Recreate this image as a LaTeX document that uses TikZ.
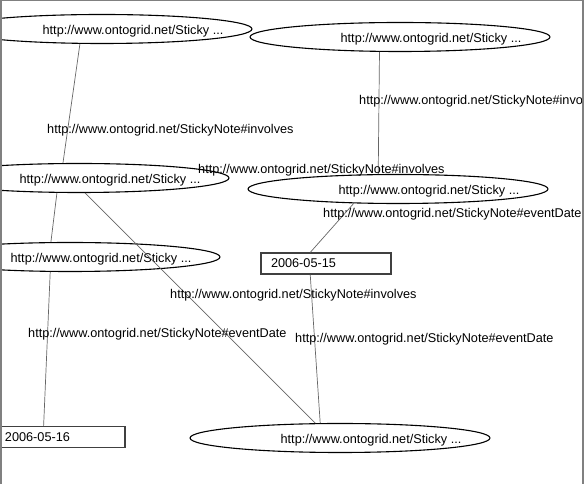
\documentclass[tikz,border=0pt]{standalone}
\usepackage{fontspec}
\setmainfont{Liberation Sans}
\usepackage{tikz}
\usetikzlibrary{shapes.geometric}
\newcommand{\sticky}{http://www.ontogrid.net/Sticky ...}
\newcommand{\prop}[1]{http://www.ontogrid.net/StickyNote\##1}
\begin{document}
\begin{tikzpicture}[x=1pt, y=1pt, font=\fontsize{12.7}{15}\selectfont]
 	\tikzstyle{res}=[ellipse, draw=black, line width=1.1pt, minimum width=300pt, minimum height=29pt, inner sep=0pt]
 	\tikzstyle{lit}=[rectangle, draw=black!75, line width=1.1pt, minimum width=130pt, minimum height=21pt, text width=110pt, inner xsep=10pt, inner ysep=0pt, align=left]
 	\tikzstyle{prp}=[anchor=west, inner sep=0pt, yshift=-2pt]
 	\tikzstyle{connect}=[draw=black!60, line width=0.7pt]
 	\useasboundingbox (0,0) rectangle (584,484);
 	\node[res] (n1) at (102,455) [label={[xshift=31pt, yshift=-2.5pt]center:\sticky}] { };
 	\node[res] (n2) at (400,447) [label={[xshift=31pt, yshift=-2.5pt]center:\sticky}] { };
 	\node[res] (n3) at (79,306) [label={[xshift=31pt, yshift=-2.5pt]center:\sticky}] { };
 	\node[res] (n4) at (398,295) [label={[xshift=31pt, yshift=-2.5pt]center:\sticky}] { };
 	\node[res] (n5) at (70,227) [label={[xshift=31pt, yshift=-2.5pt]center:\sticky}] { };
 	\node[res] (n6) at (340,46) [label={[xshift=31pt, yshift=-2.5pt]center:\sticky}] { };
 	\node[lit] (d1) at (326,220.5) {2006-05-15};
 	\node[lit] (d2) at (60,47) {2006-05-16};
 	\path (n1.214) edge [connect] (n3.137)
 	(n2.216) edge [connect] (n4.143)
 	(n3.214) edge [connect] (n5.142)
 	(n3.-68) edge [connect] (n6.149)
 	(n4.198) edge [connect] (d1.145)
 	(n5.217) edge [connect] (d2.146)
 	(d1.215) edge [connect] (n6.143);
 	\node[prp] (p1) at (47,356) {\prop{involves}};
 	\node[prp] (p2) at (359,385) {\prop{involves}};
 	\node[prp] (p3) at (198,316) {\prop{involves}};
 	\node[prp] (p4) at (323,272) {\prop{eventDate}};
 	\node[prp] (p5) at (170,191) {\prop{involves}};
 	\node[prp] (p6) at (28,152) {\prop{eventDate}};
 	\node[prp] (p7) at (295,147) {\prop{eventDate}};
 	% frame
 	\draw[black!50, line width=1.5pt] (0.75,0) -- (0.75,483.25) -- (583,483.25) -- (583,0);
 	\end{tikzpicture}
\end{document}
